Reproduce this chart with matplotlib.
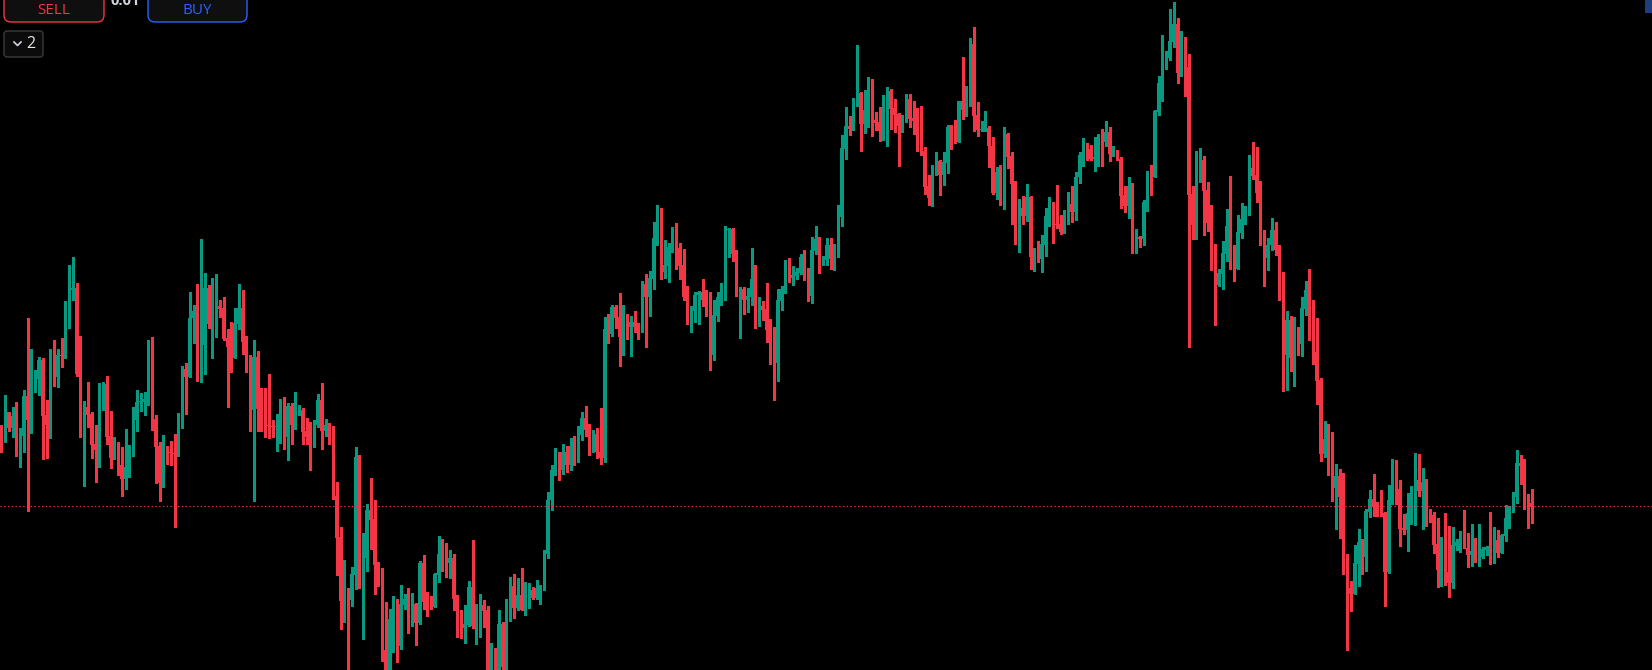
"""
Candlestick chart in the dark trading-terminal style: ~400 bars, a dotted
current-price line and the SELL / BUY order buttons in the top-left corner.

Prices are in chart points (no price axis is shown in the screenshot).
"""

import matplotlib
matplotlib.use("Agg")
import matplotlib.pyplot as plt
import numpy as np
from matplotlib.patches import FancyBboxPatch, Rectangle

OUT = "out.png"

UP_COLOR = "#089981"
DOWN_COLOR = "#F23645"
BG = "#000000"

LAST_PRICE = 164

opens = [
    235, 231, 258, 242, 254, 234, 234, 274, 250, 290,
    291, 310, 255, 245, 310, 293, 315, 313, 357, 380,
    382, 297, 257, 263, 256, 226, 220, 274, 286, 234,
    212, 227, 205, 191, 202, 216, 250, 268, 268, 270,
    326, 251, 224, 187, 219, 218, 217, 215, 244, 301,
    293, 352, 359, 312, 325, 382, 346, 349, 364, 362,
    332, 324, 312, 346, 362, 329, 303, 260, 313, 262,
    246, 245, 244, 243, 243, 258, 233, 264, 245, 259,
    260, 239, 234, 232, 245, 270, 239, 245, 241, 174,
    133, 69, 76, 70, 95, 213, 97, 112, 160, 151,
    106, 98, 20, -2, 50, 62, 24, 65, 71, 45,
    66, 47, 107, 69, 67, 63, 95, 116, 115, 107,
    112, 72, 47, 42, 45, 83, 44, 54, 65, 60,
    -5, 15, 0, 46, 3, 57, 84, 62, 75, 60,
    66, 80, 72, 81, 83, 116, 170, 200, 212, 200,
    218, 205, 224, 212, 235, 252, 240, 222, 236, 218,
    212, 341, 336, 363, 353, 333, 353, 343, 348, 344,
    338, 386, 373, 391, 431, 461, 398, 404, 422, 429,
    422, 405, 374, 350, 359, 375, 378, 371, 361, 315,
    354, 372, 375, 440, 441, 417, 374, 381, 370, 373,
    391, 358, 364, 361, 341, 324, 307, 369, 380, 399,
    392, 394, 397, 413, 396, 374, 419, 431, 407, 410,
    425, 411, 420, 453, 521, 544, 541, 565, 577, 546,
    559, 568, 550, 548, 539, 541, 579, 562, 556, 544,
    549, 571, 552, 550, 548, 519, 484, 472, 496, 509,
    495, 507, 543, 532, 528, 569, 560, 580, 626, 555,
    540, 541, 542, 524, 477, 498, 471, 536, 514, 487,
    437, 462, 454, 473, 413, 420, 411, 425, 453, 461,
    446, 446, 438, 452, 466, 458, 493, 514, 523, 521,
    511, 512, 533, 528, 538, 517, 518, 511, 475, 464,
    484, 421, 433, 431, 467, 498, 493, 558, 586, 610,
    612, 628, 646, 597, 626, 603, 476, 445, 506, 510,
    480, 448, 411, 385, 396, 416, 444, 412, 401, 437,
    450, 459, 502, 495, 478, 436, 412, 425, 440, 420,
    388, 315, 350, 312, 342, 326, 361, 380, 338, 318,
    290, 216, 231, 212, 182, 194, 174, 104, 82, 76,
    106, 128, 113, 158, 171, 163, 162, 157, 98, 169,
    201, 181, 142, 140, 156, 160, 190, 179, 188, 156,
    155, 126, 100, 121, 98, 87, 124, 127, 133, 122,
    115, 119, 111, 113, 120, 123, 111, 130, 117, 134,
    151, 160, 173, 207, 205, 171, 167,
]

highs = [
    245, 275, 258, 263, 268, 242, 280, 352, 321, 300,
    313, 312, 270, 321, 330, 321, 332, 369, 405, 413,
    387, 334, 269, 288, 258, 245, 287, 288, 294, 259,
    233, 228, 223, 241, 225, 263, 280, 277, 278, 330,
    333, 255, 228, 235, 224, 229, 236, 257, 304, 307,
    378, 365, 386, 431, 397, 385, 392, 396, 370, 373,
    341, 348, 362, 386, 380, 334, 315, 330, 319, 282,
    282, 296, 250, 256, 271, 273, 267, 267, 278, 265,
    262, 252, 248, 250, 276, 287, 251, 247, 244, 188,
    143, 110, 82, 103, 223, 215, 137, 166, 192, 170,
    108, 102, 68, 61, 74, 71, 85, 76, 82, 77,
    67, 109, 115, 78, 74, 97, 134, 131, 127, 120,
    116, 75, 60, 65, 89, 130, 66, 76, 70, 64,
    27, 22, 60, 48, 71, 93, 96, 92, 102, 88,
    87, 83, 90, 85, 120, 178, 205, 222, 218, 226,
    224, 232, 234, 244, 258, 264, 246, 240, 242, 262,
    353, 356, 365, 365, 377, 365, 356, 354, 359, 347,
    389, 396, 399, 448, 465, 462, 430, 427, 443, 447,
    427, 421, 384, 364, 378, 379, 391, 380, 378, 370,
    378, 387, 444, 442, 442, 420, 383, 383, 382, 422,
    405, 373, 369, 387, 351, 343, 381, 384, 410, 412,
    404, 402, 416, 420, 402, 433, 444, 433, 414, 432,
    432, 426, 465, 535, 563, 554, 572, 625, 578, 580,
    593, 591, 558, 563, 575, 583, 581, 571, 557, 555,
    576, 576, 569, 562, 564, 523, 495, 505, 518, 510,
    518, 545, 545, 550, 569, 613, 584, 632, 643, 568,
    549, 559, 544, 533, 503, 505, 543, 537, 518, 489,
    471, 474, 486, 474, 422, 429, 435, 462, 473, 468,
    485, 455, 460, 478, 484, 498, 518, 532, 527, 525,
    533, 536, 541, 549, 543, 524, 520, 513, 484, 493,
    487, 441, 434, 470, 499, 505, 560, 594, 635, 619,
    661, 668, 652, 639, 633, 616, 484, 519, 522, 514,
    488, 465, 426, 401, 429, 461, 494, 425, 455, 467,
    464, 515, 528, 523, 489, 440, 432, 452, 448, 425,
    398, 359, 354, 353, 343, 373, 389, 401, 370, 352,
    292, 249, 246, 238, 206, 201, 197, 116, 89, 125,
    141, 131, 161, 180, 196, 168, 180, 158, 185, 211,
    210, 190, 156, 177, 184, 217, 216, 202, 191, 161,
    158, 152, 133, 157, 144, 143, 131, 139, 160, 137,
    146, 132, 146, 123, 124, 158, 143, 140, 136, 165,
    164, 178, 220, 215, 211, 176, 181,
]

lows = [
    218, 228, 239, 233, 214, 203, 218, 159, 237, 278,
    275, 211, 212, 232, 284, 283, 303, 312, 342, 370,
    294, 233, 184, 243, 212, 188, 203, 260, 226, 202,
    211, 195, 174, 181, 193, 214, 239, 259, 255, 265,
    240, 187, 169, 183, 206, 205, 143, 214, 242, 256,
    293, 327, 289, 288, 296, 342, 312, 333, 353, 330,
    263, 298, 312, 341, 316, 298, 239, 169, 239, 239,
    233, 232, 233, 219, 227, 221, 210, 226, 241, 255,
    226, 226, 200, 223, 243, 221, 234, 226, 171, 95,
    41, 48, -10, 64, 81, 82, 31, 99, 121, 76,
    84, 9, -10, -10, 18, 8, 21, 61, 37, 44,
    25, 46, 61, 54, 61, 63, 88, 99, 93, 92,
    60, 33, 32, 27, 44, 42, 26, 33, 43, -10,
    -10, -10, -8, -5, -2, 49, 52, 60, 60, 55,
    62, 71, 71, 66, 80, 112, 160, 195, 190, 196,
    198, 200, 205, 208, 230, 234, 215, 218, 212, 206,
    208, 327, 334, 342, 304, 315, 331, 314, 338, 331,
    338, 323, 354, 381, 425, 391, 392, 388, 418, 401,
    391, 370, 346, 338, 348, 346, 364, 354, 300, 310,
    349, 365, 370, 413, 409, 374, 332, 356, 358, 365,
    342, 344, 350, 328, 306, 270, 289, 360, 377, 388,
    385, 391, 396, 390, 369, 367, 416, 397, 405, 405,
    401, 400, 413, 444, 511, 535, 540, 564, 519, 537,
    543, 534, 540, 529, 530, 524, 541, 538, 504, 538,
    548, 543, 536, 519, 515, 476, 465, 464, 495, 475,
    485, 497, 521, 527, 528, 551, 554, 564, 539, 534,
    539, 539, 503, 476, 471, 465, 461, 502, 446, 426,
    418, 446, 449, 401, 399, 408, 398, 414, 444, 427,
    442, 436, 437, 446, 448, 450, 487, 504, 510, 510,
    499, 504, 504, 524, 509, 514, 510, 462, 458, 452,
    417, 417, 423, 425, 459, 475, 493, 555, 569, 601,
    610, 623, 587, 594, 574, 323, 431, 431, 488, 435,
    439, 400, 345, 384, 381, 409, 401, 389, 401, 432,
    446, 455, 491, 468, 425, 384, 400, 420, 415, 370,
    279, 280, 299, 284, 315, 314, 355, 330, 306, 266,
    209, 213, 195, 169, 141, 132, 96, 20, 59, 76,
    84, 96, 99, 153, 154, 154, 154, 64, 97, 166,
    166, 124, 136, 119, 146, 145, 174, 141, 144, 148,
    117, 83, 84, 85, 73, 82, 120, 118, 122, 103,
    104, 108, 104, 112, 115, 106, 107, 113, 117, 129,
    142, 158, 167, 186, 161, 142, 147,
]

closes = [
    231, 258, 242, 254, 234, 235, 274, 250, 291, 292,
    310, 254, 245, 310, 293, 315, 314, 358, 381, 382,
    296, 257, 263, 255, 225, 220, 275, 286, 233, 212,
    227, 204, 191, 203, 217, 251, 268, 269, 271, 326,
    250, 223, 187, 219, 217, 217, 216, 245, 301, 293,
    352, 359, 312, 326, 382, 346, 350, 364, 361, 331,
    323, 312, 347, 362, 328, 302, 260, 313, 261, 245,
    245, 244, 243, 244, 258, 233, 264, 245, 259, 260,
    238, 233, 232, 246, 270, 239, 245, 240, 173, 132,
    69, 76, 70, 96, 213, 97, 113, 160, 150, 105,
    97, 19, -2, 51, 62, 24, 66, 71, 45, 66,
    47, 107, 68, 66, 63, 96, 116, 114, 107, 112,
    71, 46, 42, 46, 83, 44, 55, 65, 59, -5,
    15, -3, 46, 3, 58, 84, 62, 75, 60, 67,
    80, 72, 82, 83, 116, 170, 200, 212, 200, 218,
    205, 224, 212, 235, 252, 240, 222, 236, 218, 212,
    341, 336, 363, 352, 333, 353, 343, 348, 343, 338,
    386, 373, 392, 432, 461, 398, 405, 423, 429, 421,
    404, 373, 350, 360, 375, 378, 370, 360, 315, 355,
    373, 376, 440, 441, 416, 374, 381, 370, 374, 391,
    358, 364, 360, 340, 323, 307, 370, 381, 399, 392,
    395, 398, 413, 395, 374, 420, 431, 407, 411, 425,
    411, 421, 454, 522, 544, 541, 566, 577, 546, 560,
    568, 549, 547, 539, 542, 579, 561, 555, 544, 550,
    571, 551, 549, 547, 518, 483, 472, 497, 509, 495,
    508, 543, 531, 528, 569, 560, 581, 626, 554, 540,
    541, 542, 524, 477, 498, 471, 536, 513, 486, 437,
    462, 454, 473, 413, 420, 410, 426, 454, 461, 446,
    445, 438, 453, 466, 458, 493, 515, 523, 520, 511,
    513, 533, 528, 538, 516, 518, 510, 474, 464, 484,
    421, 432, 431, 468, 498, 493, 559, 587, 611, 613,
    629, 646, 597, 626, 602, 475, 445, 507, 510, 479,
    447, 410, 385, 397, 417, 444, 411, 401, 438, 451,
    460, 502, 494, 477, 436, 412, 425, 440, 420, 387,
    315, 350, 312, 342, 326, 362, 380, 337, 317, 289,
    216, 231, 211, 182, 194, 173, 103, 81, 76, 107,
    128, 113, 159, 171, 163, 162, 156, 98, 170, 201,
    180, 141, 140, 157, 161, 190, 179, 188, 155, 155,
    125, 100, 121, 97, 87, 125, 128, 133, 122, 115,
    119, 111, 114, 121, 123, 111, 130, 117, 135, 152,
    161, 174, 207, 204, 171, 167, 163,
]


def draw_candles(ax):
    o = np.array(opens, dtype=float)
    h = np.array(highs, dtype=float)
    l = np.array(lows, dtype=float)
    c = np.array(closes, dtype=float)
    x = np.arange(len(o))
    up = c >= o
    colors = np.where(up, UP_COLOR, DOWN_COLOR)

    ax.vlines(x, l, h, colors=colors, linewidth=0.75, antialiased=False)
    bottom = np.minimum(o, c)
    height = np.maximum(np.abs(c - o), 0.9)  # keep dojis visible
    ax.bar(x, height, bottom=bottom, width=0.82, color=colors,
           linewidth=0, antialiased=False)

    ax.axhline(LAST_PRICE, color=DOWN_COLOR, linewidth=0.8,
               linestyle=(0, (1.2, 2.2)))


def draw_toolbar(fig):
    # overlay in screen pixels (y down) for the order buttons
    ui = fig.add_axes([0, 0, 1, 1], facecolor="none")
    ui.set_xlim(0, 1652)
    ui.set_ylim(670, 0)
    ui.axis("off")

    for x0, x1, edge, label in [(4, 104, DOWN_COLOR, "SELL"),
                                (148, 247, "#2962FF", "BUY")]:
        ui.add_patch(FancyBboxPatch((x0, -12), x1 - x0, 34,
                                    boxstyle="round,pad=0,rounding_size=7",
                                    facecolor="#0f0f0f", edgecolor=edge,
                                    linewidth=1.0))
        ui.text((x0 + x1) / 2, 11, label, color=edge, fontsize=11,
                family="Open Sans", ha="center", va="center")

    # order size, mostly scrolled off the top edge
    ui.text(125, 5, "0.01", color="#d1d4dc", fontsize=10.5, family="Open Sans",
            fontweight="bold", ha="center", va="baseline")

    ui.add_patch(FancyBboxPatch((4, 31), 39, 26,
                                boxstyle="round,pad=0,rounding_size=3",
                                facecolor="#0b0b0b", edgecolor="#3a3a3a",
                                linewidth=1.0))
    ui.plot([14, 17.5, 21], [42, 45.5, 42], color="#d1d4dc", linewidth=1.2)
    ui.text(31, 44, "2", color="#e6e6e6", fontsize=11.5, family="Open Sans",
            ha="center", va="center")

    ui.add_patch(Rectangle((1645, 0), 8, 13, facecolor="#1e3f7c",
                           edgecolor="none"))


def main():
    fig = plt.figure(figsize=(16.52, 6.70), dpi=100, facecolor=BG)
    ax = fig.add_axes([0, 0, 1, 1], facecolor=BG)
    draw_candles(ax)

    # bar i sits at about 1.3 + 3.77 * i screen pixels
    ax.set_xlim(-0.345, 437.85)
    ax.set_ylim(0, 670)
    ax.axis("off")

    draw_toolbar(fig)
    fig.savefig(OUT, dpi=100, facecolor=BG)


if __name__ == "__main__":
    main()
